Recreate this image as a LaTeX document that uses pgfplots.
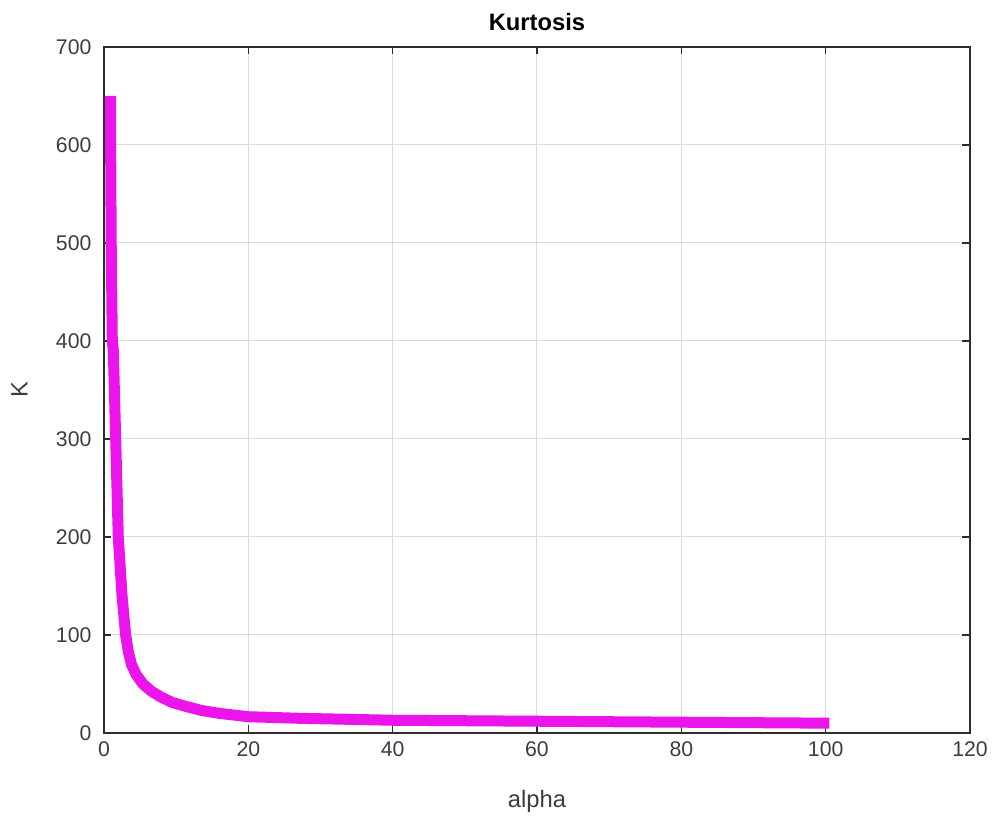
\documentclass[border=0pt]{standalone}
\usepackage{pgfplots}
\pgfplotsset{compat=1.18}
\usepackage{fontspec}
\setmainfont{Liberation Sans}
\definecolor{kline}{RGB}{235,20,235}
\definecolor{axgray}{RGB}{45,45,45}
\definecolor{lblgray}{RGB}{60,60,60}
\begin{document}
\begin{tikzpicture}
\begin{axis}[
  at={(0,0)}, anchor=south west,
  scale only axis,
  width=346.4pt, height=274.4pt,
  xmin=0, xmax=120, ymin=0, ymax=700,
  xtick={0,20,...,120},
  ytick={0,100,...,700},
  grid=major,
  grid style={gray!28, line width=0.4pt},
  tick align=inside,
  major tick length=3pt,
  axis line style={axgray, line width=0.5pt},
  tick style={axgray, line width=0.5pt},
  ticklabel style={font=\fontsize{8.5}{10}\selectfont, text=lblgray},
  yticklabel style={xshift=-1.5pt},
  /pgf/number format/assume math mode=true,
  title={\textbf{Kurtosis}},
  title style={font=\fontsize{9.5}{11}\selectfont, text=black, yshift=-3pt},
  xlabel={alpha},
  ylabel={K},
  label style={font=\fontsize{9.5}{11}\selectfont, text=lblgray},
  xlabel style={yshift=-6.5pt},
  ylabel style={yshift=4.5pt},
  clip=false,
]
\addplot[kline, line width=4.4pt] table {
x y
0.9 650
0.92 600
1.0 500
1.15 400
1.29 391
1.62 300
1.98 200
2.5 140
3.0 100
3.4 82
3.8 70
4.5 59
5.4 50
6.5 43
7.8 37
9.5 31
11.4 27
13.5 23
16 20
20 16.6
27 15
40 13
60 12
80 11
100.5 10
};
\end{axis}
\pgfresetboundingbox
\useasboundingbox (-41.6pt,-35.2pt) rectangle (355.2pt,293.2pt);
\end{tikzpicture}
\end{document}
